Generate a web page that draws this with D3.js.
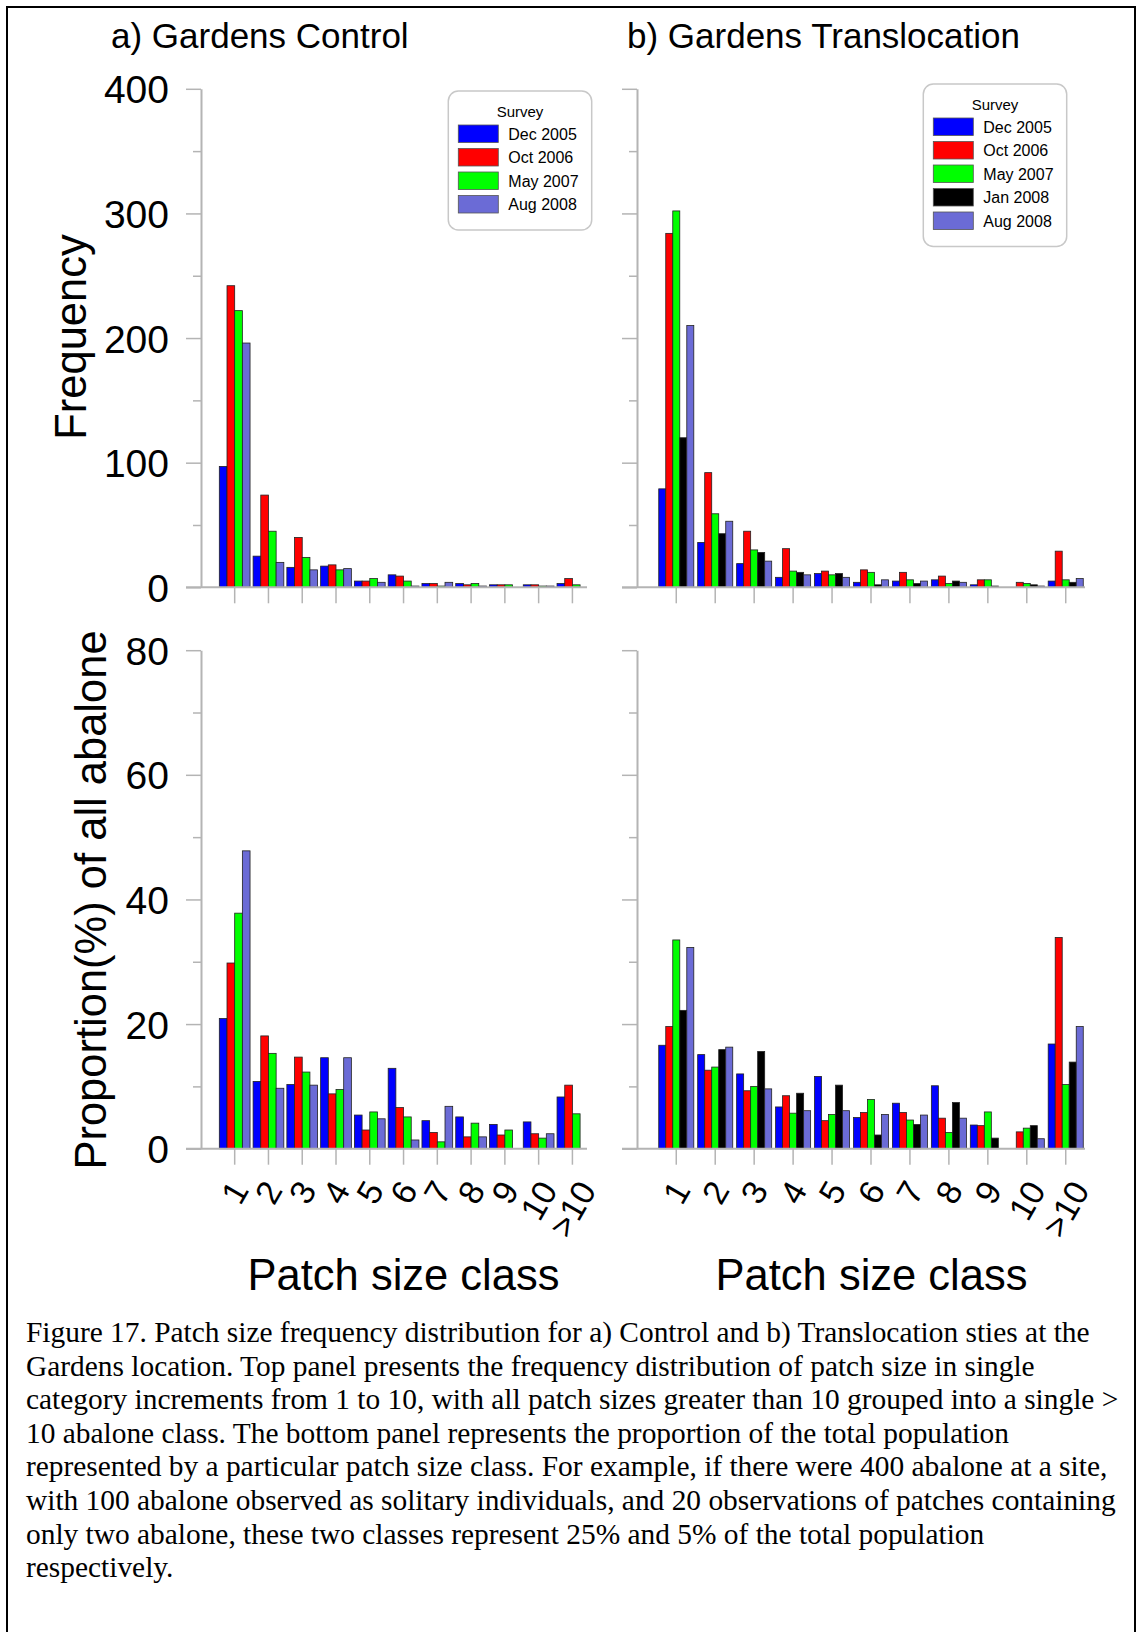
<!DOCTYPE html>
<html>
<head>
<meta charset="utf-8">
<script src="https://cdn.jsdelivr.net/npm/d3@7"></script>
<style>
  body { margin: 0; background: #fff; }
  svg { display: block; }
</style>
</head>
<body>
<svg id="svgCanvas" width="1137" height="1632"></svg>
<script>
// ---------------- DATA ----------------
const categories = ["1", "2", "3", "4", "5", "6", "7", "8", "9", "10", ">10"];

const controlSeries = ["Dec 2005", "Oct 2006", "May 2007", "Aug 2008"];
const translocSeries = ["Dec 2005", "Oct 2006", "May 2007", "Jan 2008", "Aug 2008"];

// a) Gardens Control - frequency
const ctrlFreqDec05 = [97, 25, 16, 17, 5, 10, 3, 3, 2, 2, 3];
const ctrlFreqOct06 = [242, 74, 40, 18, 5, 9, 3, 2, 2, 2, 7];
const ctrlFreqMay07 = [222, 45, 24, 14, 7, 5, 1, 3, 2, 1, 2];
const ctrlFreqAug08 = [196, 20, 14, 15, 4, 1, 4, 1, 0, 1, 0];

// b) Gardens Translocation - frequency
const transFreqDec05 = [79, 36, 19, 8, 11, 4, 5, 6, 2, 0, 5];
const transFreqOct06 = [284, 92, 45, 31, 13, 14, 12, 9, 6, 4, 29];
const transFreqMay07 = [302, 59, 30, 13, 10, 12, 6, 3, 6, 3, 6];
const transFreqJan08 = [120, 43, 28, 12, 11, 2, 3, 5, 1, 2, 4];
const transFreqAug08 = [210, 53, 21, 10, 8, 6, 5, 4, 0, 1, 7];

// a) Gardens Control - proportion (%)
const ctrlPropDec05 = [20.9, 10.8, 10.3, 14.6, 5.4, 12.9, 4.5, 5.1, 3.9, 4.3, 8.3];
const ctrlPropOct06 = [29.8, 18.1, 14.7, 8.8, 3.0, 6.6, 2.6, 1.9, 2.2, 2.4, 10.2];
const ctrlPropMay07 = [37.8, 15.3, 12.3, 9.5, 5.9, 5.1, 1.1, 4.1, 3.0, 1.7, 5.6];
const ctrlPropAug08 = [47.8, 9.7, 10.2, 14.6, 4.8, 1.4, 6.8, 1.9, 0, 2.4, 0];

// b) Gardens Translocation - proportion (%)
const transPropDec05 = [16.6, 15.1, 12.0, 6.7, 11.6, 5.0, 7.3, 10.1, 3.8, 0, 16.8];
const transPropOct06 = [19.6, 12.6, 9.3, 8.5, 4.5, 5.8, 5.8, 4.9, 3.7, 2.7, 33.9];
const transPropMay07 = [33.5, 13.1, 10.0, 5.7, 5.5, 7.9, 4.6, 2.6, 5.9, 3.3, 10.3];
const transPropJan08 = [22.2, 15.9, 15.6, 8.9, 10.2, 2.2, 3.9, 7.4, 1.7, 3.7, 13.9];
const transPropAug08 = [32.3, 16.3, 9.6, 6.1, 6.1, 5.5, 5.4, 4.9, 0, 1.6, 19.6];

const freqTicks = [0, 100, 200, 300, 400];
const propTicks = [0, 20, 40, 60, 80];

const captionLines = [
  "Figure 17. Patch size frequency distribution for a) Control and b) Translocation sties at the",
  "Gardens location. Top panel presents the frequency distribution of patch size in single",
  "category increments from 1 to 10, with all patch sizes greater than 10 grouped into a single >",
  "10 abalone class. The bottom panel represents the proportion of the total population",
  "represented by a particular patch size class. For example, if there were 400 abalone at a site,",
  "with 100 abalone observed as solitary individuals, and 20 observations of patches containing",
  "only two abalone, these two classes represent 25% and 5% of the total population",
  "respectively."
];

// series colours
const colour = {
  "Dec 2005": "#0000ff",
  "Oct 2006": "#ff0000",
  "May 2007": "#00ff00",
  "Jan 2008": "#000000",
  "Aug 2008": "#6b6bd6"
};

const SANS = "'Liberation Sans', Arial, sans-serif";
const SERIF = "'Liberation Serif', 'Times New Roman', serif";
const axisGrey = "#b4b4b4";

const svg = d3.select("#svgCanvas");

// ---------------- PAGE FRAME ----------------
svg.append("path")
  .attr("d", "M7,1632 V7 H1135 V1632")
  .attr("fill", "none")
  .attr("stroke", "black")
  .attr("stroke-width", 2);

// ---------------- SCALES ----------------
const yFreq = d3.scaleLinear().domain([0, 400]).range([587.3, 88.8]);
const yProp = d3.scaleLinear().domain([0, 80]).range([1148.7, 650.2]);

const xLeft = d3.scaleBand().domain(categories).range([217.8, 589.3]).paddingInner(0.09).paddingOuter(0.045);
const xRight = d3.scaleBand().domain(categories).range([656.8, 1085.2]).paddingInner(0.1).paddingOuter(0.05);

function drawPanel(x, y, axisX, baseEnd, series, values, majorTicks, minorStep, showYLabels, showXLabels) {
  const g = svg.append("g");
  const inner = d3.scaleBand().domain(series).range([0, x.bandwidth()]);

  // bars
  series.forEach((s, si) => {
    g.selectAll(null)
      .data(values[si])
      .enter()
      .append("rect")
      .attr("x", (d, i) => x(categories[i]) + inner(s))
      .attr("y", d => y(d))
      .attr("width", inner.bandwidth())
      .attr("height", d => y(0) - y(d))
      .attr("fill", colour[s])
      .attr("stroke", "#222")
      .attr("stroke-width", 0.8)
      .attr("stroke-opacity", d => d > 0 ? 1 : 0);
  });

  // y axis: minor ticks then major ticks
  const maxV = y.domain()[1];
  const minor = d3.range(0, maxV + 0.001, minorStep).filter(v => !majorTicks.includes(v));
  g.append("g")
    .attr("transform", `translate(${axisX},0)`)
    .call(d3.axisLeft(y).tickValues(minor).tickSize(8).tickSizeOuter(0).tickFormat(""))
    .call(a => a.selectAll("line").attr("stroke", axisGrey).attr("stroke-width", 1.5))
    .call(a => a.select(".domain").attr("stroke", axisGrey).attr("stroke-width", 2));

  const yAxis = g.append("g")
    .attr("transform", `translate(${axisX},0)`)
    .call(d3.axisLeft(y).tickValues(majorTicks).tickSize(15).tickSizeOuter(0).tickPadding(17)
      .tickFormat(showYLabels ? d3.format("d") : ""));
  yAxis.select(".domain").remove();
  yAxis.selectAll("line").attr("stroke", axisGrey).attr("stroke-width", 1.5);
  yAxis.selectAll("text")
    .attr("font-family", SANS)
    .attr("font-size", 39)
    .attr("fill", "black")
    .attr("dy", "0.36em");

  // x axis baseline and ticks
  g.append("line")
    .attr("x1", axisX - 15).attr("x2", baseEnd)
    .attr("y1", y(0)).attr("y2", y(0))
    .attr("stroke", axisGrey).attr("stroke-width", 2);

  const xAxis = g.append("g")
    .attr("transform", `translate(0,${y(0)})`)
    .call(d3.axisBottom(x).tickSize(16).tickSizeOuter(0).tickFormat(""));
  xAxis.select(".domain").remove();
  xAxis.selectAll("line").attr("stroke", axisGrey).attr("stroke-width", 1.5);

  // rotated class labels, bounding box centred under each tick
  if (showXLabels) {
    const fs = 34, ang = 60 * Math.PI / 180, top = 1178;
    categories.forEach(c => {
      const t = g.append("text")
        .text(c)
        .attr("font-family", SANS)
        .attr("font-size", fs)
        .attr("text-anchor", "middle")
        .attr("dominant-baseline", "central");
      const w = t.node().getComputedTextLength();
      const h = fs * 0.72;
      const cx = x(c) + x.bandwidth() / 2;
      const cy = top + (w * Math.sin(ang) + h * Math.cos(ang)) / 2;
      t.attr("transform", `translate(${cx},${cy}) rotate(-60)`);
    });
  }
}

// ---------------- PANELS ----------------
drawPanel(xLeft, yFreq, 201, 587, controlSeries,
  [ctrlFreqDec05, ctrlFreqOct06, ctrlFreqMay07, ctrlFreqAug08], freqTicks, 50, true, false);
drawPanel(xRight, yFreq, 637, 1085, translocSeries,
  [transFreqDec05, transFreqOct06, transFreqMay07, transFreqJan08, transFreqAug08], freqTicks, 50, false, false);
drawPanel(xLeft, yProp, 201, 587, controlSeries,
  [ctrlPropDec05, ctrlPropOct06, ctrlPropMay07, ctrlPropAug08], propTicks, 10, true, true);
drawPanel(xRight, yProp, 637, 1085, translocSeries,
  [transPropDec05, transPropOct06, transPropMay07, transPropJan08, transPropAug08], propTicks, 10, false, true);

// ---------------- TITLES ----------------
svg.append("text").text("a) Gardens Control")
  .attr("x", 111).attr("y", 48)
  .attr("font-family", SANS).attr("font-size", 35);
svg.append("text").text("b) Gardens Translocation")
  .attr("x", 627).attr("y", 48)
  .attr("font-family", SANS).attr("font-size", 35);

svg.append("text").text("Frequency")
  .attr("transform", "translate(86,337) rotate(-90)")
  .attr("text-anchor", "middle")
  .attr("font-family", SANS).attr("font-size", 43.5);
svg.append("text").text("Proportion(%) of all abalone")
  .attr("transform", "translate(106,900) rotate(-90)")
  .attr("text-anchor", "middle")
  .attr("font-family", SANS).attr("font-size", 43.5);

svg.append("text").text("Patch size class")
  .attr("x", 403.5).attr("y", 1290)
  .attr("text-anchor", "middle")
  .attr("font-family", SANS).attr("font-size", 43.5);
svg.append("text").text("Patch size class")
  .attr("x", 871.5).attr("y", 1290)
  .attr("text-anchor", "middle")
  .attr("font-family", SANS).attr("font-size", 43.5);

// ---------------- LEGENDS ----------------
function drawLegend(left, top, series) {
  const rowStep = 23.5;
  const lg = svg.append("g").attr("transform", `translate(${left},${top})`);
  lg.append("rect")
    .attr("width", 143.4)
    .attr("height", 38 + series.length * rowStep + 7)
    .attr("rx", 10)
    .attr("fill", "white")
    .attr("stroke", "#c8c8c8")
    .attr("stroke-width", 1.5);
  lg.append("text").text("Survey")
    .attr("x", 71.7).attr("y", 25.5)
    .attr("text-anchor", "middle")
    .attr("font-family", SANS).attr("font-size", 15);
  series.forEach((s, i) => {
    lg.append("rect")
      .attr("x", 10).attr("y", 34 + i * rowStep)
      .attr("width", 40).attr("height", 17.5)
      .attr("fill", colour[s])
      .attr("stroke", "#555").attr("stroke-width", 0.8);
    lg.append("text").text(s)
      .attr("x", 60).attr("y", 34 + i * rowStep + 14.5)
      .attr("font-family", SANS).attr("font-size", 16);
  });
}
drawLegend(448.3, 91, controlSeries);
drawLegend(923.3, 84, translocSeries);

// ---------------- CAPTION ----------------
svg.append("g").selectAll("text")
  .data(captionLines)
  .enter()
  .append("text")
  .text(d => d)
  .attr("x", 26)
  .attr("y", (d, i) => 1342 + i * 33.6)
  .attr("font-family", SERIF)
  .attr("font-size", 29.4);
</script>
</body>
</html>
